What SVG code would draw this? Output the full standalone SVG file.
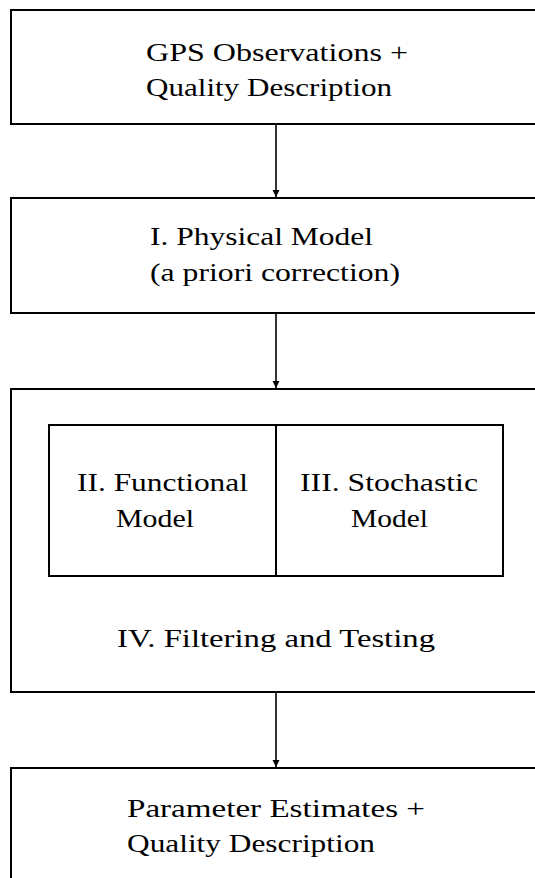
<svg xmlns="http://www.w3.org/2000/svg" width="535" height="878" viewBox="0 0 535 878">
<defs>
<style>
.box{fill:#fff;stroke:#000;stroke-width:2}
.t{font-family:'Liberation Serif','Times New Roman',serif;font-size:26px;fill:#000}
.c{stroke:#000;stroke-width:1.6;fill:none}
</style>
<marker id="ah" viewBox="0 0 8 10" refX="8" refY="5" markerWidth="7" markerHeight="9" markerUnits="userSpaceOnUse" orient="auto">
<path d="M0,1 L8,5 L0,9 Z" fill="#000"/>
</marker>
</defs>
<g id="n1">
<rect class="box" x="11" y="10" width="540" height="114"/>
<text class="t" x="146" y="61" textLength="262" lengthAdjust="spacingAndGlyphs">GPS Observations +</text>
<text class="t" x="146" y="96" textLength="246" lengthAdjust="spacingAndGlyphs">Quality Description</text>
</g>
<g id="n2">
<rect class="box" x="11" y="198" width="540" height="115"/>
<text class="t" x="150" y="245" textLength="223" lengthAdjust="spacingAndGlyphs">I. Physical Model</text>
<text class="t" x="150" y="281" textLength="250" lengthAdjust="spacingAndGlyphs">(a priori correction)</text>
</g>
<g id="n3">
<rect class="box" x="11" y="389" width="540" height="303"/>
<text class="t" x="117" y="647" textLength="318" lengthAdjust="spacingAndGlyphs">IV. Filtering and Testing</text>
</g>
<g id="n3a">
<rect class="box" x="49" y="425" width="227" height="151"/>
<text class="t" x="77" y="491" textLength="171" lengthAdjust="spacingAndGlyphs">II. Functional</text>
<text class="t" x="116" y="527" textLength="78" lengthAdjust="spacingAndGlyphs">Model</text>
</g>
<g id="n3b">
<rect class="box" x="276" y="425" width="227" height="151"/>
<text class="t" x="300" y="491" textLength="178" lengthAdjust="spacingAndGlyphs">III. Stochastic</text>
<text class="t" x="351" y="527" textLength="77" lengthAdjust="spacingAndGlyphs">Model</text>
</g>
<g id="n4">
<rect class="box" x="11" y="768" width="540" height="130"/>
<text class="t" x="127" y="817" textLength="298" lengthAdjust="spacingAndGlyphs">Parameter Estimates +</text>
<text class="t" x="127" y="852" textLength="248" lengthAdjust="spacingAndGlyphs">Quality Description</text>
</g>
<g id="connectors">
<line class="c" x1="276" y1="125" x2="276" y2="197" marker-end="url(#ah)"/>
<line class="c" x1="276" y1="314" x2="276" y2="388" marker-end="url(#ah)"/>
<line class="c" x1="276" y1="693" x2="276" y2="767" marker-end="url(#ah)"/>
</g>
</svg>
